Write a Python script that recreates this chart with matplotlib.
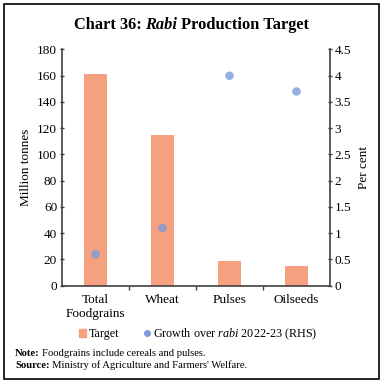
import matplotlib
matplotlib.use("Agg")
import matplotlib.pyplot as plt
from matplotlib.patches import Rectangle
from matplotlib.lines import Line2D

categories = ["Total\nFoodgrains", "Wheat", "Pulses", "Oilseeds"]
target = [161.0, 114.9, 18.5, 14.8]
growth = [0.6, 1.1, 4.0, 3.7]
left_ticks = [0, 20, 40, 60, 80, 100, 120, 140, 160, 180]
right_ticks = [0, 0.5, 1, 1.5, 2, 2.5, 3, 3.5, 4, 4.5]
right_labels = ["0", "0.5", "1", "1.5", "2", "2.5", "3", "3.5", "4", "4.5"]

FONT = "Liberation Serif"
plt.rcParams["font.family"] = FONT
plt.rcParams["mathtext.fontset"] = "custom"
plt.rcParams["mathtext.rm"] = FONT
plt.rcParams["mathtext.it"] = FONT + ":italic"
plt.rcParams["mathtext.bf"] = FONT + ":bold"

bar_color = "#F5A07E"
dot_color = "#7A9BDC"
axis_color = "#404040"

fig = plt.figure(figsize=(3.83, 3.83), dpi=100)
ax = fig.add_axes([62/383, 1-285.7/383, (330-62)/383, (285.7-49.5)/383])
ax2 = ax.twinx()

x = list(range(len(categories)))
ax.bar(x, target, width=0.33, color=bar_color, zorder=2)
ax2.scatter(x, growth, s=38, color=dot_color, alpha=0.8, edgecolors="none", zorder=3)

ax.set_xlim(-0.5, 3.5)
ax.set_ylim(0, 180)
ax2.set_ylim(0, 4.5)
ax.set_yticks(left_ticks)
ax2.set_yticks(right_ticks)
ax2.set_yticklabels(right_labels)

ax.set_xticks(x)
ax.set_xticklabels(categories, fontsize=9.5)
ax.tick_params(axis="x", length=0, pad=6)
ax.set_xticks([0.5, 1.5, 2.5], minor=True)
ax.tick_params(axis="x", which="minor", length=3, width=1, color=axis_color, direction="out")

ax.tick_params(axis="y", length=3, width=1, color=axis_color, direction="inout", labelsize=9.5, pad=2)
ax2.tick_params(axis="y", length=3, width=1, color=axis_color, direction="inout", labelsize=9.5, pad=2)

for a in (ax, ax2):
    a.spines["top"].set_visible(False)
    for s in ("left", "right", "bottom"):
        a.spines[s].set_color(axis_color)
        a.spines[s].set_linewidth(1.2)
ax2.spines["left"].set_visible(False)
ax2.spines["bottom"].set_visible(False)
ax.spines["right"].set_visible(False)

ax.set_ylabel("Million tonnes", fontsize=9.5, labelpad=4)
ax2.set_ylabel("Per cent", fontsize=9.5, labelpad=5)

renderer = fig.canvas.get_renderer()


def rich_text(pieces, x_px, y_px, size, center=False, gap=0.0):
    """pieces: list of (text, weight, style). Draws them side by side."""
    objs = []
    widths = []
    for txt, weight, style in pieces:
        t = fig.text(0, 0, txt, fontsize=size, fontweight=weight, fontstyle=style,
                     ha="left", va="center")
        bb = t.get_window_extent(renderer)
        objs.append(t)
        widths.append(bb.width + gap)
    total = sum(widths)
    start = x_px - total / 2 if center else x_px
    cur = start
    for t, w in zip(objs, widths):
        t.set_position((cur / 383, 1 - y_px / 383))
        cur += w


rich_text([("Chart 36: ", "bold", "normal"), ("Rabi", "bold", "italic"),
           (" Production Target", "bold", "normal")], 191.5, 25, 11.8, center=True)

handles = [Rectangle((0, 0), 1, 1, color=bar_color),
           Line2D([], [], marker="o", linestyle="none", color=dot_color, markersize=4)]
labels = ["Target", r"Growth over $\mathit{rabi}$ 2022-23 (RHS)"]
fig.legend(handles, labels, loc="center", bbox_to_anchor=(198/383, 1-334/383), ncol=2,
           frameon=False, fontsize=8.7, handlelength=0.6, handleheight=0.6,
           handletextpad=0.2, columnspacing=2.0)

rich_text([("Note:", "bold", "normal"), ("Foodgrains include cereals and pulses.", "normal", "normal")],
          15, 353, 7.7, gap=2.5)
rich_text([("Source:", "bold", "normal"), ("Ministry of Agriculture and Farmers' Welfare.", "normal", "normal")],
          15, 365, 7.7, gap=2.5)

fig.patches.append(Rectangle((4/383, 4/383), 375/383, 375/383, transform=fig.transFigure,
                             fill=False, edgecolor="black", linewidth=1.2))

fig.savefig("out.png", dpi=100)
